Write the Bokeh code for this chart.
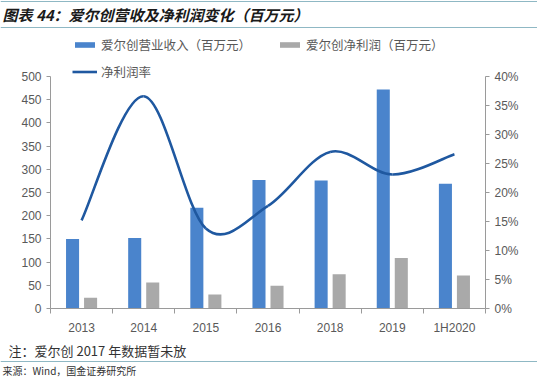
from bokeh.plotting import figure
from bokeh.layouts import column
from bokeh.models import (Range1d, LinearAxis, FixedTicker, NumeralTickFormatter,
                          Legend, LegendItem, Label, Span, ColumnDataSource)
from bokeh.embed import file_html
from bokeh.resources import INLINE

categories = ["2013", "2014", "2015", "2016", "2018", "2019", "1H2020"]
revenue = [150, 152, 217, 277, 276, 472, 269]
net_profit = [23, 56, 30, 49, 74, 109, 71]
net_margin = [0.152, 0.366, 0.138, 0.177, 0.270, 0.231, 0.266]
left_ticks = [0, 50, 100, 150, 200, 250, 300, 350, 400, 450, 500]
right_ticks = [0, 0.05, 0.10, 0.15, 0.20, 0.25, 0.30, 0.35, 0.40]

title_text = "图表 44：爱尔创营收及净利润变化（百万元）"
note_text = "注：爱尔创 2017 年数据暂未放"
source_text = "来源：Wind，国金证券研究所"
leg_rev = "爱尔创营业收入（百万元）"
leg_np = "爱尔创净利润（百万元）"
leg_margin = "净利润率"

CJK = "Noto Sans CJK SC"
LAT = "Liberation Sans"
BLUE = "#4a84cc"
GRAY = "#a9a9a9"
LINE = "#1f58a0"
AXIS = "#9a9a9a"
TXT = "#595959"
RULE = "#8fb8c4"

W = 537
H_HEAD, H_MAIN, H_FOOT = 30, 310, 37
FL, FR = 50, 485              # frame x extent (page px)
F_TOP, F_BOT = 36, 308        # frame y extent (page px)
Y500 = 76                     # page y of the 500 / 40% tick


def blank(h):
    f = figure(width=W, height=h, output_backend="svg", toolbar_location=None,
               x_range=Range1d(0, W), y_range=Range1d(h, 0),
               min_border_left=0, min_border_right=0, min_border_top=0, min_border_bottom=0,
               x_axis_location=None, y_axis_location=None, frame_align=False)
    f.outline_line_color = None
    f.xgrid.visible = False
    f.ygrid.visible = False
    f.border_fill_color = "white"
    return f


def lab(f, text, x, y, size, font=CJK, style="normal", color="#222222"):
    f.add_layout(Label(x=x, y=y, text=text, text_font=font, text_font_size=size,
                       text_font_style=style, text_color=color,
                       text_baseline="middle", text_align="left"))


# ---------- header ----------
head = blank(H_HEAD)
head.add_layout(Span(location=1, dimension="width", line_color=RULE, line_width=1))
head.add_layout(Span(location=27, dimension="width", line_color=RULE, line_width=1))
lab(head, title_text, 2, 14, "15px", style="bold italic", color="#1a1a1a")

# ---------- main chart ----------
frame_h = F_BOT - F_TOP
scale = frame_h / (F_BOT - Y500)
p = figure(width=W, height=H_MAIN, output_backend="svg", toolbar_location=None,
           x_range=Range1d(-0.5, len(categories) - 0.5),
           y_range=Range1d(0, left_ticks[-1] * scale),
           min_border_left=FL, min_border_right=W - FR,
           min_border_top=F_TOP - H_HEAD, min_border_bottom=H_HEAD + H_MAIN - F_BOT,
           x_axis_location=None, y_axis_location=None, frame_align=False)
p.outline_line_color = None
p.xgrid.visible = False
p.ygrid.visible = False
p.border_fill_color = "white"
p.extra_y_ranges = {"pct": Range1d(0, right_ticks[-1] * scale)}

idx = list(range(len(categories)))
src = ColumnDataSource(dict(x=idx, rev=revenue, np_=net_profit,
                            xr=[i - 0.145 for i in idx], xn=[i + 0.145 for i in idx]))
r_rev = p.vbar(x="xr", top="rev", width=0.21, source=src, fill_color=BLUE, line_color=None)
r_np = p.vbar(x="xn", top="np_", width=0.21, source=src, fill_color=GRAY, line_color=None)

# smoothed line drawn as Bezier segments derived from the data points
n = len(idx)
x0s, y0s, x1s, y1s, cx0, cy0, cx1, cy1 = [], [], [], [], [], [], [], []
for i in range(n - 1):
    P0 = (idx[max(i - 1, 0)], net_margin[max(i - 1, 0)])
    P1 = (idx[i], net_margin[i])
    P2 = (idx[i + 1], net_margin[i + 1])
    P3 = (idx[min(i + 2, n - 1)], net_margin[min(i + 2, n - 1)])
    x0s.append(P1[0]); y0s.append(P1[1]); x1s.append(P2[0]); y1s.append(P2[1])
    cx0.append(P1[0] + (P2[0] - P0[0]) / 6); cy0.append(P1[1] + (P2[1] - P0[1]) / 6)
    cx1.append(P2[0] - (P3[0] - P1[0]) / 6); cy1.append(P2[1] - (P3[1] - P1[1]) / 6)
r_line = p.bezier(x0=x0s, y0=y0s, x1=x1s, y1=y1s, cx0=cx0, cy0=cy0, cx1=cx1, cy1=cy1,
                  line_color=LINE, line_width=2.6, y_range_name="pct")

xa = LinearAxis(ticker=FixedTicker(ticks=idx, minor_ticks=[i - 0.5 for i in idx] + [n - 0.5]),
                major_label_overrides={i: c for i, c in enumerate(categories)})
xa.axis_line_color = AXIS
xa.major_tick_line_color = None
xa.minor_tick_line_color = AXIS
xa.minor_tick_out = 5
xa.minor_tick_in = 0
xa.major_label_text_font = LAT
xa.major_label_text_font_size = "12px"
xa.major_label_text_color = TXT
xa.major_label_standoff = 6
p.add_layout(xa, "below")

ya = LinearAxis(ticker=FixedTicker(ticks=left_ticks), bounds=(left_ticks[0], left_ticks[-1]))
ra = LinearAxis(y_range_name="pct", ticker=FixedTicker(ticks=right_ticks),
                formatter=NumeralTickFormatter(format="0%"),
                bounds=(right_ticks[0], right_ticks[-1]))
for ax in (ya, ra):
    ax.axis_line_color = AXIS
    ax.major_tick_line_color = AXIS
    ax.major_tick_out = 4
    ax.major_tick_in = 0
    ax.minor_tick_line_color = None
    ax.major_label_text_font = LAT
    ax.major_label_text_font_size = "12px"
    ax.major_label_text_color = TXT
    ax.major_label_standoff = 5
p.add_layout(ya, "left")
p.add_layout(ra, "right")

legend = Legend(items=[LegendItem(label=leg_rev, renderers=[r_rev]),
                       LegendItem(label=leg_np, renderers=[r_np]),
                       LegendItem(label=leg_margin, renderers=[r_line])],
                orientation="horizontal", ncols=2,
                location=(22, 227), padding=0, margin=0, border_line_color=None,
                background_fill_alpha=0,
                glyph_width=25, glyph_height=7, label_height=16, label_width=168,
                label_standoff=4, spacing=8,
                label_text_font=CJK, label_text_font_size="12.5px", label_text_color=TXT)
p.add_layout(legend, "center")

# ---------- footer ----------
foot = blank(H_FOOT)
foot.add_layout(Span(location=21, dimension="width", line_color=RULE, line_width=1))
lab(foot, note_text, 8, 10, "13px", color="#333333")
lab(foot, source_text, 2, 30, "10px", color="#333333")

layout = column(head, p, foot, spacing=0)
open("out.html", "w").write(file_html(layout, INLINE))
